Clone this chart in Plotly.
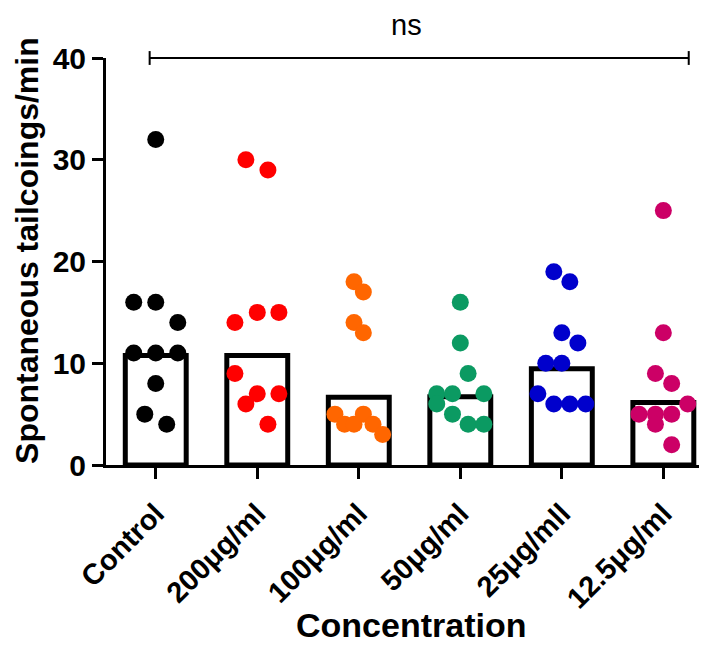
import plotly.graph_objects as go

categories = ["Control", "200μg/ml", "100μg/ml", "50μg/ml", "25μg/mll", "12.5μg/ml"]
colors = ["#000000", "#FF0000", "#FF6600", "#0B9A62", "#0000CC", "#CC0066"]

# bar heights
bar_values = [10.75, 10.75, 6.65, 6.7, 9.45, 6.15]

# individual points per group
ctrl_vals = [32, 16, 16, 14, 11, 11, 11, 8, 5, 4]
c200_vals = [30, 29, 14, 15, 15, 9, 7, 7, 6, 4]
c100_vals = [18, 17, 14, 13, 5, 4, 4, 5, 4, 3]
c50_vals = [16, 12, 9, 7, 7, 7, 6, 5, 4, 4]
c25_vals = [19, 18, 13, 12, 10, 10, 7, 6, 6, 6]
c12_vals = [25, 13, 9, 8, 6, 5, 5, 5, 4, 2]

# horizontal scatter offsets (category units)
ctrl_jit = [0, -0.217, 0, 0.217, -0.217, 0, 0.217, 0, -0.108, 0.108]
c200_jit = [-0.112, 0.105, -0.22, 0, 0.213, -0.22, 0, 0.213, -0.112, 0.105]
c100_jit = [-0.047, 0.045, -0.047, 0.045, -0.235, -0.14, -0.047, 0.045, 0.14, 0.235]
c50_jit = [0, 0, 0.077, -0.232, -0.077, 0.232, -0.232, -0.077, 0.077, 0.232]
c25_jit = [-0.079, 0.079, 0, 0.158, -0.158, 0, -0.236, -0.079, 0.079, 0.236]
c12_jit = [0, 0, -0.078, 0.082, 0.24, -0.24, -0.078, 0.082, -0.078, 0.082]

groups = [ctrl_vals, c200_vals, c100_vals, c50_vals, c25_vals, c12_vals]
jitters = [ctrl_jit, c200_jit, c100_jit, c50_jit, c25_jit, c12_jit]

y_ticks = [0, 10, 20, 30, 40]

FONT = "Liberation Sans"

fig = go.Figure()

fig.add_trace(go.Bar(
    x=list(range(len(categories))),
    y=bar_values,
    width=0.6,
    marker=dict(color="white", line=dict(color="black", width=5)),
    showlegend=False,
    hoverinfo="skip",
))

for i, (vals, jit) in enumerate(zip(groups, jitters)):
    fig.add_trace(go.Scatter(
        x=[i + j for j in jit],
        y=vals,
        mode="markers",
        marker=dict(color=colors[i], size=17, line=dict(width=0)),
        showlegend=False,
        cliponaxis=False,
    ))

# significance bracket
b_left, b_right = -0.06, 5.25
fig.add_shape(type="line", xref="x", yref="paper", x0=b_left, x1=b_right, y0=1.0, y1=1.0,
              line=dict(color="black", width=2))
for bx in (b_left, b_right):
    fig.add_shape(type="line", xref="x", yref="paper", x0=bx, x1=bx, y0=0.983, y1=1.017,
                  line=dict(color="black", width=2))

fig.add_annotation(text="ns", xref="x", yref="paper", x=2.47, y=1.081,
                   showarrow=False, font=dict(family=FONT, size=29, color="black"),
                   xanchor="center", yanchor="middle")

fig.add_annotation(text="<b>Spontaneous tailcoings/min</b>", xref="paper", yref="paper",
                   x=-0.1314, y=0.526, textangle=-90, showarrow=False,
                   font=dict(family=FONT, size=32, color="black"),
                   xanchor="center", yanchor="middle")

fig.add_annotation(text="<b>Concentration</b>", xref="paper", yref="paper",
                   x=0.5075, y=-0.393, showarrow=False,
                   font=dict(family=FONT, size=34, color="black"),
                   xanchor="center", yanchor="middle")

# page body has an 8px margin, so the figure is shifted by 8px
fig.update_layout(
    width=699, height=649,
    margin=dict(l=98, r=0, t=50, b=192, pad=0),
    plot_bgcolor="white", paper_bgcolor="white",
    showlegend=False,
)

fig.update_xaxes(
    range=[-0.49, 5.43],
    tickmode="array",
    tickvals=list(range(len(categories))),
    ticktext=[f"<b>{c}</b>" for c in categories],
    tickangle=-45,
    tickfont=dict(family=FONT, size=29, color="black"),
    ticklabelstandoff=6,
    showline=True, linecolor="black", linewidth=3,
    ticks="outside", ticklen=11, tickwidth=3, tickcolor="black",
    showgrid=False, zeroline=False,
)
fig.update_yaxes(
    range=[0, 40],
    tickmode="array",
    tickvals=y_ticks,
    ticktext=[f"<b>{t}</b>" for t in y_ticks],
    tickfont=dict(family=FONT, size=30, color="black"),
    showline=True, linecolor="black", linewidth=3,
    ticks="outside", ticklen=11, tickwidth=3, tickcolor="black",
    showgrid=False, zeroline=False,
)

fig.write_html("out.html")
